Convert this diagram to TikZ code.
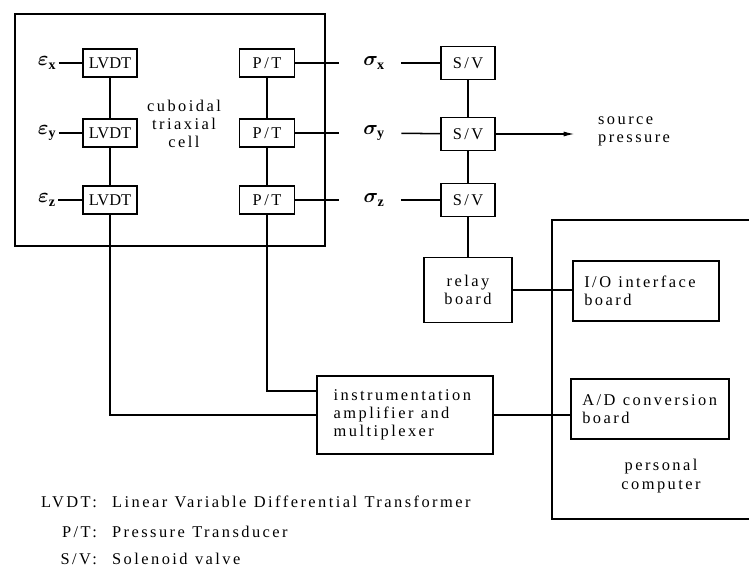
\documentclass[tikz,border=0pt]{standalone}
\usepackage{amsmath}
\usepackage{fontspec}
\setmainfont{Liberation Serif}[LetterSpace=15]
\newfontfamily\plainfont{Liberation Serif}
\usepackage{bm}
\usepackage{tikz}
\usetikzlibrary{arrows.meta, positioning, calc}
\newcommand{\wsp}{\hspace{0.45em}}

\begin{document}
\begin{tikzpicture}[
  x=0.03cm, y=-0.03cm,
  font=\fontsize{14}{15.5}\selectfont,
  container/.style={draw, line width=2.4pt, inner sep=0pt},
  sensor/.style={draw, line width=1.5pt, minimum width=1.62cm, minimum height=0.84cm, inner sep=0pt},
  valve/.style={draw, line width=1.5pt, minimum width=1.62cm, minimum height=0.99cm, inner sep=0pt},
  board/.style={draw, line width=1.5pt, align=left, inner xsep=0.33cm, minimum height=1.8cm},
  var/.style={inner sep=2pt, font=\LARGE},
  link/.style={line width=1.3pt},
  arr/.style={-{Latex[length=3.4mm, width=1.5mm]}, line width=1.3pt}
]
  \useasboundingbox (0,0) rectangle (749,567);

  % Triaxial cell with its transducers
  \node[container, minimum width=9.3cm, minimum height=6.96cm] (cell) at (170,130) {};
  \node[align=center] (celltext) at (184,124) {cuboidal\\triaxial\\cell};
  \node[sensor] (lvdtx) at (110,63) {\plainfont LVDT};
  \node[sensor] (lvdty) at (110,133) {\plainfont LVDT};
  \node[sensor] (lvdtz) at (110,200) {\plainfont LVDT};
  \node[sensor, minimum width=1.65cm] (ptx) at (267,63) {P/T};
  \node[sensor, minimum width=1.65cm] (pty) at (267,133) {P/T};
  \node[sensor, minimum width=1.65cm] (ptz) at (267,200) {P/T};
  \node[var] (ex) at (47,63) {$\bm{\varepsilon}_{\mathbf{x}}$};
  \node[var] (ey) at (47,133) {$\bm{\varepsilon}_{\mathbf{y}}$};
  \node[var] (ez) at (47,200) {$\bm{\varepsilon}_{\mathbf{z}}$};

  % Solenoid valves
  \node[var] (sx) at (374,63) {$\bm{\sigma}_{\mathbf{x}}$};
  \node[var] (sy) at (374,133) {$\bm{\sigma}_{\mathbf{y}}$};
  \node[var] (sz) at (374,200) {$\bm{\sigma}_{\mathbf{z}}$};
  \node[valve] (svx) at (468,63) {S/V};
  \node[valve] (svy) at (468,134) {S/V};
  \node[valve] (svz) at (468,200) {S/V};
  \node[align=left, anchor=west] (src) at (594,131) {source\\pressure};
  \node[draw, line width=1.5pt, minimum width=2.64cm, minimum height=1.95cm, align=center] (relay) at (468,290) {relay\\board};

  % Personal computer
  \node[container, minimum width=6.54cm, minimum height=8.97cm] (pc) at (661,369.5) {};
  \node[align=center] (pctext) at (661,476) {personal\\computer};
  \node[board, text width=3.7cm] (io) at (646,291) {I/O\wsp interface\\board};
  \node[board, text width=4.06cm] (ad) at (650,409) {A/D\wsp conversion\\board};
  \node[board, inner xsep=0.5cm, text width=4.28cm, minimum height=2.34cm] (amp) at (405,415) {instrumentation\\amplifier\wsp and\\multiplexer};

  % Legend
  \node[anchor=east] (keylvdt) at (101,502) {LVDT:};
  \node[anchor=west] (desclvdt) at (108,502) {Linear\wsp Variable\wsp Differential\wsp Transformer};
  \node[anchor=east] (keypt) at (101,532) {P/T:};
  \node[anchor=west] (descpt) at (108,532) {Pressure\wsp Transducer};
  \node[anchor=east] (keysv) at (101,559) {S/V:};
  \node[anchor=west] (descsv) at (108,559) {Solenoid\wsp valve};

  % Connections
  \draw[link] (ex) -- (lvdtx);
  \draw[link] (ey) -- (lvdty);
  \draw[link] (ez) -- (lvdtz);
  \draw[link] (lvdtx) -- (lvdty);
  \draw[link] (lvdty) -- (lvdtz);
  \draw[link] (ptx) -- (pty);
  \draw[link] (pty) -- (ptz);
  \draw[link, shorten >=0.66cm] (ptx) -- (sx);
  \draw[link, shorten >=0.66cm] (pty) -- (sy);
  \draw[link, shorten >=0.66cm] (ptz) -- (sz);
  \draw[link, shorten <=0.42cm] (sx) -- (svx);
  \draw[link, shorten <=0.42cm] (sy) -- (svy);
  \draw[link, shorten <=0.42cm] (sz) -- (svz);
  \draw[link] (svx) -- (svy);
  \draw[link] (svy) -- (svz);
  \draw[arr, shorten >=0.57cm] (svy.east) -- (svy.east -| src.west);
  \draw[link] (svz) -- (relay);
  \draw[link] (relay.east) -- (relay.east -| io.west);
  \draw[link] (amp.east) -- (amp.east -| ad.west);
  \draw[link] (lvdtz) |- (amp.west);
  \draw[link] (ptz) |- ([yshift=0.72cm]amp.west);
\end{tikzpicture}
\end{document}
